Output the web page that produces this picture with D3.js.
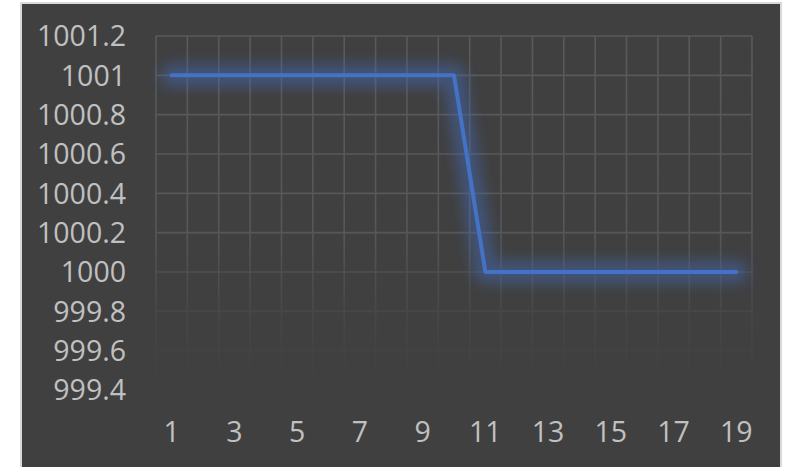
<!DOCTYPE html>
<html>
<head>
<meta charset="utf-8">
<script src="https://cdn.jsdelivr.net/npm/d3@7"></script>
<style>
  html, body { margin: 0; padding: 0; background: #ffffff; }
  svg { display: block; }
</style>
</head>
<body>
<svg id="chart" width="790" height="467"></svg>
<script>
const categories = [1,2,3,4,5,6,7,8,9,10,11,12,13,14,15,16,17,18,19];
const values = [1001,1001,1001,1001,1001,1001,1001,1001,1001,1001,1000,1000,1000,1000,1000,1000,1000,1000,1000];
const yTicks = [999.4, 999.6, 999.8, 1000, 1000.2, 1000.4, 1000.6, 1000.8, 1001, 1001.2];
const xTickLabels = [1,3,5,7,9,11,13,15,17,19];

const svg = d3.select("#chart");
const W = 790, H = 467;
const plot = { left: 156, right: 752, top: 36, bottom: 390 };

// chart background
svg.append("rect")
  .attr("x", 21).attr("y", 3)
  .attr("width", 760).attr("height", 470)
  .attr("fill", "#404040")
  .attr("stroke", "#d9d9d9")
  .attr("stroke-width", 2);

const x = d3.scaleBand().domain(categories).range([plot.left, plot.right]).padding(0);
const y = d3.scaleLinear().domain([999.4, 1001.2]).range([plot.bottom, plot.top]);

const defs = svg.append("defs");
const grad = defs.append("linearGradient")
  .attr("id", "fadeGrad")
  .attr("gradientUnits", "userSpaceOnUse")
  .attr("x1", 0).attr("y1", plot.top).attr("x2", 0).attr("y2", plot.bottom);
grad.append("stop").attr("offset", "0%").attr("stop-color", "#fff").attr("stop-opacity", 1);
grad.append("stop").attr("offset", "55%").attr("stop-color", "#fff").attr("stop-opacity", 0.9);
grad.append("stop").attr("offset", "80%").attr("stop-color", "#fff").attr("stop-opacity", 0.25);
grad.append("stop").attr("offset", "100%").attr("stop-color", "#fff").attr("stop-opacity", 0);
const mask = defs.append("mask").attr("id", "fadeMask")
  .attr("maskUnits", "userSpaceOnUse")
  .attr("x", 0).attr("y", 0).attr("width", W).attr("height", H);
mask.append("rect").attr("x", 0).attr("y", plot.top - 5).attr("width", W).attr("height", plot.bottom - plot.top + 10)
  .attr("fill", "url(#fadeGrad)");

const blur = defs.append("filter").attr("id", "glow")
  .attr("filterUnits", "userSpaceOnUse")
  .attr("x", 0).attr("y", 0).attr("width", W).attr("height", H);
blur.append("feGaussianBlur").attr("stdDeviation", 7);

// grid
const grid = svg.append("g").attr("mask", "url(#fadeMask)");
const gridColor = "#5a5a5a";
grid.selectAll("line.h").data(yTicks).enter().append("line")
  .attr("x1", plot.left).attr("x2", plot.right)
  .attr("y1", d => y(d)).attr("y2", d => y(d))
  .attr("stroke", gridColor).attr("stroke-width", 1.6);
const vEdges = categories.map(c => x(c)).concat([x(categories[categories.length - 1]) + x.bandwidth()]);
grid.selectAll("line.v").data(vEdges).enter().append("line")
  .attr("x1", d => d).attr("x2", d => d)
  .attr("y1", plot.top).attr("y2", plot.bottom)
  .attr("stroke", gridColor).attr("stroke-width", 1.6);

// axes labels
const font = "'Open Sans', 'DejaVu Sans', sans-serif";
svg.append("g").selectAll("text").data(yTicks).enter().append("text")
  .attr("x", 126).attr("y", d => y(d))
  .attr("dy", "0.36em")
  .attr("text-anchor", "end")
  .attr("font-family", font).attr("font-size", 28.5)
  .attr("fill", "#c0c0c0")
  .text(d => d);

svg.append("g").selectAll("text").data(xTickLabels).enter().append("text")
  .attr("x", d => x(d) + x.bandwidth() / 2).attr("y", 432)
  .attr("dy", "0.36em")
  .attr("text-anchor", "middle")
  .attr("font-family", font).attr("font-size", 28.5)
  .attr("fill", "#c0c0c0")
  .text(d => d);

// line
const data = categories.map((c, i) => ({ c, v: values[i] }));
const line = d3.line().x(d => x(d.c) + x.bandwidth() / 2).y(d => y(d.v));

svg.append("path").datum(data)
  .attr("d", line)
  .attr("fill", "none")
  .attr("stroke", "#3f68b8")
  .attr("stroke-opacity", 0.5)
  .attr("stroke-width", 22)
  .attr("stroke-linejoin", "round")
  .attr("stroke-linecap", "round")
  .attr("filter", "url(#glow)");

svg.append("path").datum(data)
  .attr("d", line)
  .attr("fill", "none")
  .attr("stroke", "#4472c4")
  .attr("stroke-width", 4)
  .attr("stroke-linejoin", "round")
  .attr("stroke-linecap", "round");
</script>
</body>
</html>
